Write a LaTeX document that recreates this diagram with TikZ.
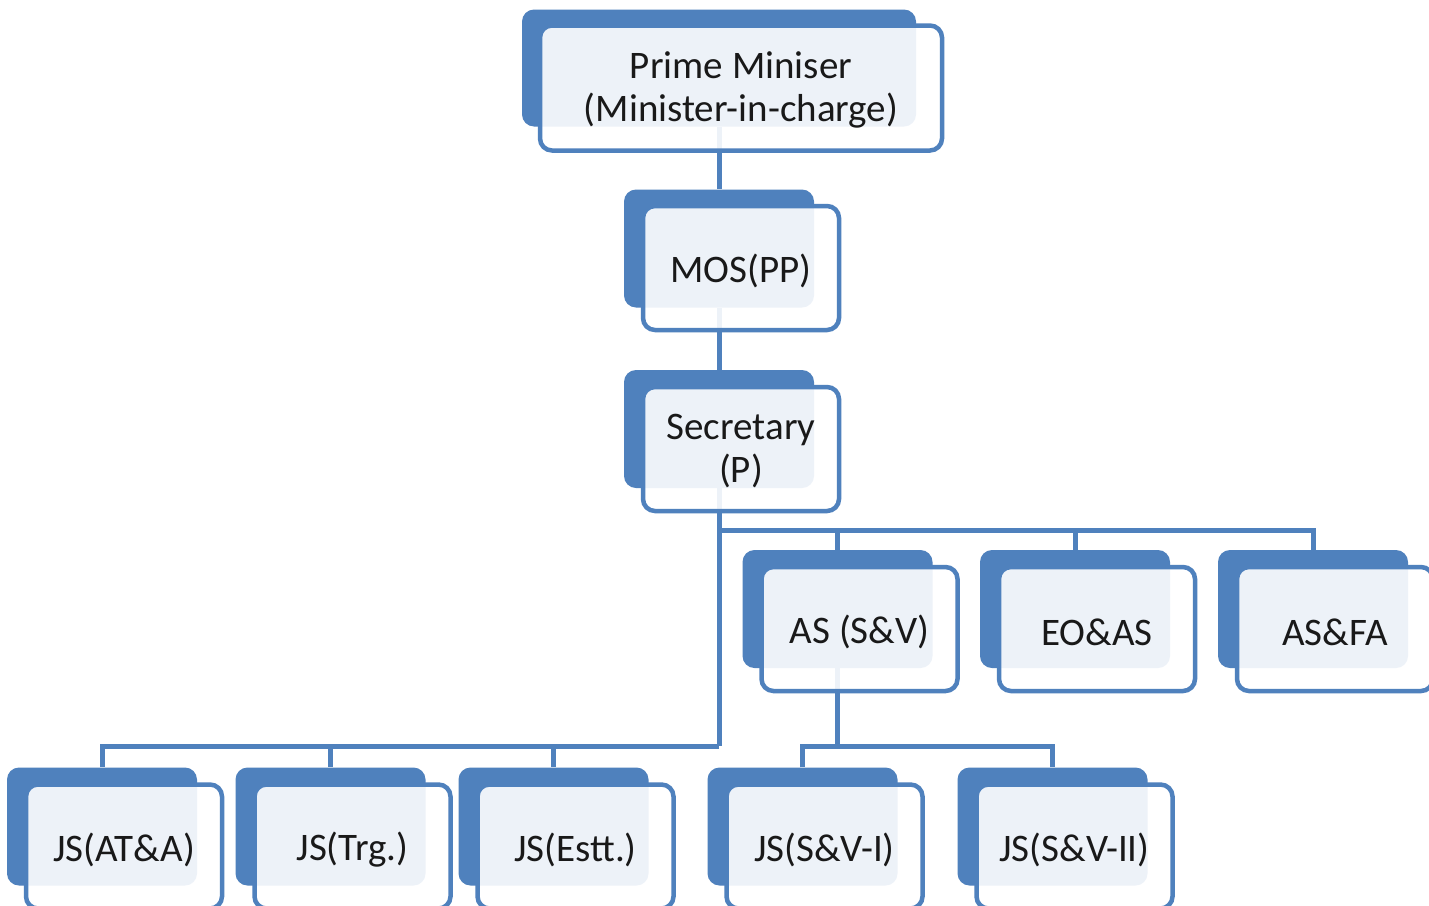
\documentclass[tikz,border=0pt]{standalone}
\usepackage{fontspec}
\setmainfont{Carlito}
\definecolor{boxblue}{HTML}{4F81BD}
% lower a label a little inside its panel without changing the panel's size
\newcommand{\lowered}[1]{\raisebox{-3pt}[\height][\depth]{#1}}
\newcommand{\twolines}[2]{\lowered{\begin{tabular}{@{}c@{}}#1\\#2\end{tabular}}}
\begin{document}
\begin{tikzpicture}[x=1pt,y=-1pt,
  backbox/.style={draw=none,fill=boxblue,rounded corners=12pt,
    minimum width=190pt,minimum height=118pt,inner sep=0pt},
  frontbox/.style={draw=boxblue,line width=4.5pt,fill=white,fill opacity=0.9,
    text opacity=1,rounded corners=12pt,minimum width=196pt,minimum height=124pt,
    inner sep=0pt,align=center,font=\fontsize{39}{43}\selectfont,text=black!90},
  conn/.style={draw=boxblue,line width=5pt}]
\clip (0,0) rectangle (1429,905);
\fill[white] (0,0) rectangle (1429,905);

% back plates
\node[backbox,minimum width=394pt,minimum height=117pt] (pmB) at (719,68) {};
\node[backbox] (mosB) at (719,248.5) {};
\node[backbox] (secB) at (719,429) {};
\node[backbox] (asB) at (837.5,609) {};
\node[backbox] (eoB) at (1075,609) {};
\node[backbox] (asfaB) at (1313,609) {};
\node[backbox] (jsatB) at (102,826.5) {};
\node[backbox] (jstrgB) at (330.5,826.5) {};
\node[backbox] (jsesttB) at (553.5,826.5) {};
\node[backbox] (jssvaB) at (802.5,826.5) {};
\node[backbox] (jssvbB) at (1052.5,826.5) {};

% buses
\coordinate (busA) at (719,530);
\coordinate (busB) at (719,746);

% connectors
\draw[conn] (pmB.south) -- (mosB.north);
\draw[conn] (mosB.south) -- (secB.north);
\draw[conn] (secB.south) -- (busB);
\draw[conn] (busA) -| (asfaB.north);
\draw[conn] (busA -| asB.north) -- (asB.north);
\draw[conn] (busA -| eoB.north) -- (eoB.north);
\draw[conn] (busB) -| (jsatB.north);
\draw[conn] (busB -| jstrgB.north) -- (jstrgB.north);
\draw[conn] (busB -| jsesttB.north) -- (jsesttB.north);
\draw[conn] (asB.south) -- (asB.south |- busB);
\draw[conn] (jssvaB.north) |- (jssvbB.north |- busB) -- (jssvbB.north);

% front panels with labels
\node[frontbox,minimum width=402pt,minimum height=125pt] (pm) at (741,88) {\twolines{Prime Miniser}{(Minister-in-charge)}};
\node[frontbox] (mos) at (741,268) {\lowered{MOS(PP)}};
\node[frontbox] (sec) at (741,449) {\twolines{Secretary}{(P)}};
\node[frontbox] (as) at (859.5,629) {\lowered{AS (S\&V)}};
\node[frontbox] (eo) at (1097,629) {\lowered{EO\&AS}};
\node[frontbox] (asfa) at (1335,629) {\lowered{AS\&FA}};
\node[frontbox] (jsat) at (124,846.5) {\lowered{JS(AT\&A)}};
\node[frontbox] (jstrg) at (352.5,846.5) {\lowered{JS(Trg.)}};
\node[frontbox] (jsestt) at (575.5,846.5) {\lowered{JS(Estt.)}};
\node[frontbox] (jssva) at (824.5,846.5) {\lowered{JS(S\&V-I)}};
\node[frontbox] (jssvb) at (1074.5,846.5) {\lowered{JS(S\&V-II)}};
\end{tikzpicture}
\end{document}
